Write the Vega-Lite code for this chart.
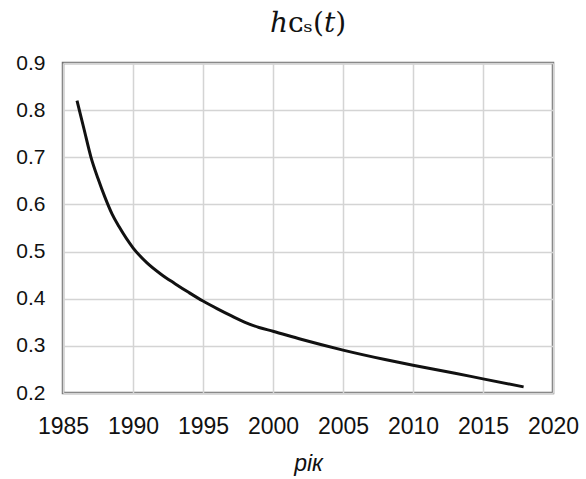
{
  "$schema": "https://vega.github.io/schema/vega-lite/v6.json",
  "width": 490,
  "height": 330,
  "autosize": {"type": "none"},
  "padding": {"left": 63, "top": 63, "right": 33, "bottom": 86},
  "background": "white",
  "title": {
    "text": "ℎᴄₛ(𝑡)",
    "font": "DejaVu Serif",
    "fontSize": 28,
    "fontWeight": "normal",
    "color": "#111111",
    "anchor": "middle",
    "offset": 14
  },
  "data": {
    "values": [
      {"year": 1986.0, "h": 0.82},
      {"year": 1986.5, "h": 0.76},
      {"year": 1987.0, "h": 0.70},
      {"year": 1987.5, "h": 0.655},
      {"year": 1988.0, "h": 0.615},
      {"year": 1988.5, "h": 0.58},
      {"year": 1989.0, "h": 0.553},
      {"year": 1990.0, "h": 0.508},
      {"year": 1991.0, "h": 0.476},
      {"year": 1992.0, "h": 0.452},
      {"year": 1993.0, "h": 0.432},
      {"year": 1994.0, "h": 0.413},
      {"year": 1995.0, "h": 0.395},
      {"year": 1996.0, "h": 0.379},
      {"year": 1997.0, "h": 0.364},
      {"year": 1998.0, "h": 0.35},
      {"year": 1999.0, "h": 0.339},
      {"year": 2000.0, "h": 0.331},
      {"year": 2002.0, "h": 0.314},
      {"year": 2005.0, "h": 0.291},
      {"year": 2008.0, "h": 0.271},
      {"year": 2010.0, "h": 0.259},
      {"year": 2013.0, "h": 0.242},
      {"year": 2015.0, "h": 0.23},
      {"year": 2017.9, "h": 0.213}
    ]
  },
  "mark": {"type": "line", "color": "#111111", "strokeWidth": 3, "interpolate": "monotone"},
  "encoding": {
    "x": {
      "field": "year",
      "type": "quantitative",
      "scale": {"domain": [1985, 2020], "nice": false, "zero": false},
      "axis": {
        "values": [1985, 1990, 1995, 2000, 2005, 2010, 2015, 2020],
        "format": "d",
        "title": "рік",
        "titleFont": "Liberation Sans",
        "titleFontStyle": "italic",
        "titleFontWeight": "normal",
        "titleFontSize": 23,
        "titleColor": "#111111",
        "titlePadding": 14,
        "labelFont": "Liberation Sans",
        "labelFontSize": 23,
        "labelColor": "#111111",
        "labelPadding": 22,
        "labelOverlap": false,
        "labelFlush": false,
        "ticks": false,
        "domain": false,
        "grid": true,
        "gridColor": "#d4d4d4",
        "gridWidth": 1.5
      }
    },
    "y": {
      "field": "h",
      "type": "quantitative",
      "scale": {"domain": [0.2, 0.9], "nice": false, "zero": false},
      "axis": {
        "values": [0.2, 0.3, 0.4, 0.5, 0.6, 0.7, 0.8, 0.9],
        "format": ".1f",
        "title": null,
        "labelFont": "Liberation Sans",
        "labelFontSize": 21,
        "labelColor": "#111111",
        "labelPadding": 18,
        "labelFlush": false,
        "ticks": false,
        "domain": false,
        "grid": true,
        "gridColor": "#d4d4d4",
        "gridWidth": 1.5
      }
    }
  },
  "config": {
    "view": {"stroke": "#707070", "strokeWidth": 2.5}
  }
}
